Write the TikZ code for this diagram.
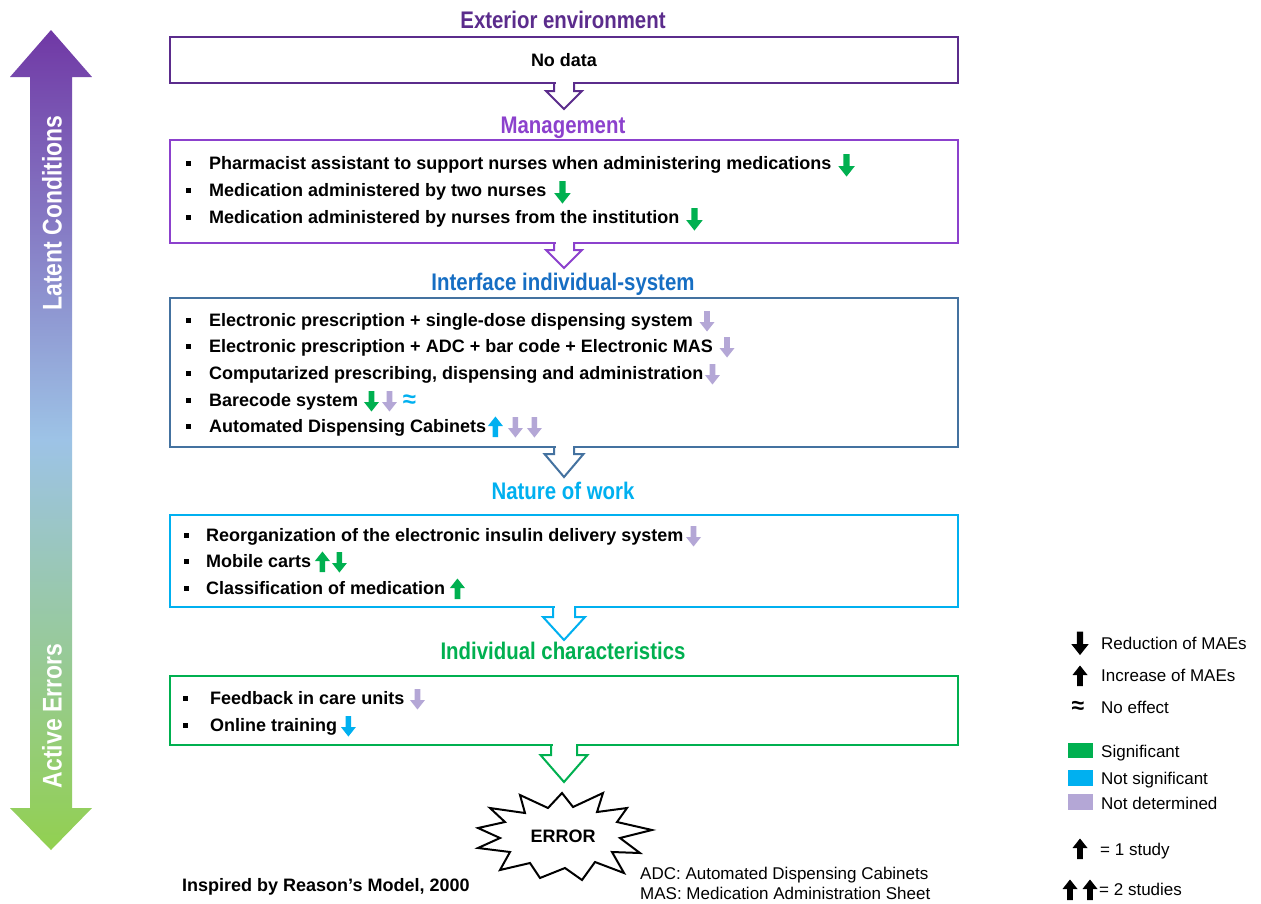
\documentclass[tikz,border=0pt]{standalone}
\usepackage{fontspec}
\setmainfont{Liberation Sans}
\newfontfamily\narrowsans[FakeStretch=0.85]{Liberation Sans}
\definecolor{cExt}{RGB}{91,44,140}
\definecolor{cMan}{RGB}{140,65,205}
\definecolor{cIntT}{RGB}{22,110,195}
\definecolor{cIntB}{RGB}{68,114,160}
\definecolor{cNat}{RGB}{0,176,240}
\definecolor{cInd}{RGB}{0,176,80}
\definecolor{sig}{RGB}{0,176,80}
\definecolor{nsig}{RGB}{0,176,240}
\definecolor{nd}{RGB}{180,167,214}
\definecolor{arTop}{RGB}{112,56,165}
\definecolor{arMid}{RGB}{157,195,230}
\definecolor{arBot}{RGB}{146,208,80}
\newcommand\itemfont{\bfseries\fontsize{18}{20}\selectfont}
\newcommand\hdrfont{\narrowsans\bfseries\fontsize{24}{28}\selectfont}
\newcommand\legfont{\fontsize{17}{20}\selectfont}
\newcommand\sidefont{\narrowsans\bfseries\fontsize{27}{30}\selectfont}
\newcommand\bul[1]{\llap{\rule[3.8pt]{5pt}{5pt}\hspace{#1pt}}}
\tikzset{
  box/.style={draw, line width=2pt, outer sep=0pt, inner sep=0pt, minimum width=788pt, font=\itemfont},
  hdr/.style={font=\hdrfont, inner sep=0pt, text height=17.2pt, text depth=0pt},
  item/.style={anchor=west, inner sep=0pt, font=\itemfont, text height=12.9pt, text depth=0pt},
  leg/.style={anchor=west, inner sep=0pt, font=\legfont, text height=12.2pt, text depth=0pt},
  side/.style={rotate=90, text=white, font=\sidefont, inner sep=0pt, text height=19.4pt, text depth=0pt},
  flow/.style={line width=2pt, line join=miter},
  darr/.pic={\fill[pic actions] (-2.8,-10) -- (2.8,-10) -- (2.8,1) -- (7.5,1) -- (0,10.5) -- (-7.5,1) -- (-2.8,1) -- cycle;},
  uarr/.pic={\fill[pic actions] (-2.8,10) -- (2.8,10) -- (2.8,-1) -- (7.5,-1) -- (0,-10.5) -- (-7.5,-1) -- (-2.8,-1) -- cycle;},
}
\begin{document}
\begin{tikzpicture}[x=1pt,y=-1pt]
\useasboundingbox[fill=white] (0,0) rectangle (1261,903);

% left gradient double arrow
\shade[top color=arTop, bottom color=arBot, middle color=arMid]
  (51,30) -- (92,77) -- (72,77) -- (72,808) -- (92,808) -- (51,850) -- (10,808) -- (30,808) -- (30,77) -- (10,77) -- cycle;
\node[side] (lat) at (52,213) {Latent Conditions};
\node[side] (act) at (52,716) {Active Errors};

% headers
\node[hdr, text=cExt] (h1) at (563,20) {Exterior environment};
\node[hdr, text=cMan] (h2) at (563,125) {Management};
\node[hdr, text=cIntT] (h3) at (563,282) {Interface individual-system};
\node[hdr, text=cNat] (h4) at (563,491) {Nature of work};
\node[hdr, text=cInd] (h5) at (563,651) {Individual characteristics};

% boxes
\node[box, draw=cExt, minimum height=46pt] (b1) at (564,60) {No data};
\node[box, draw=cMan, minimum height=103pt] (b2) at (564,191.5) {};
\node[box, draw=cIntB, minimum height=149pt] (b3) at (564,372.5) {};
\node[box, draw=cNat, minimum height=92pt] (b4) at (564,561) {};
\node[box, draw=cInd, minimum height=69pt] (b5) at (564,710.5) {};

% block arrows between boxes
\fill[white] (b1.south) ++(-8.5,-2) rectangle ++(17,4);
\draw[flow, draw=cExt] (b1.south) ++(-10,0) -- ++(0,8) -- ++(-8,0) -- ++(18,18) -- ++(18,-18) -- ++(-8,0) -- ++(0,-8);
\fill[white] (b2.south) ++(-8.5,-2) rectangle ++(17,4);
\draw[flow, draw=cMan] (b2.south) ++(-10,0) -- ++(0,7) -- ++(-8,0) -- ++(18,18) -- ++(18,-18) -- ++(-8,0) -- ++(0,-7);
\fill[white] (b3.south) ++(-8.5,-2) rectangle ++(17,4);
\draw[flow, draw=cIntB] (b3.south) ++(-10,0) -- ++(0,7) -- ++(-9.5,0) -- ++(19.5,23) -- ++(19.5,-23) -- ++(-9.5,0) -- ++(0,-7);
\fill[white] (b4.south) ++(-9.5,-2) rectangle ++(19,4);
\draw[flow, draw=cNat] (b4.south) ++(-11,0) -- ++(0,10) -- ++(-10,0) -- ++(21,23) -- ++(21,-23) -- ++(-10,0) -- ++(0,-10);
\fill[white] (b5.south) ++(-11.5,-2) rectangle ++(23,4);
\draw[flow, draw=cInd] (b5.south) ++(-13,0) -- ++(0,10) -- ++(-10.5,0) -- ++(23.5,27) -- ++(23.5,-27) -- ++(-10.5,0) -- ++(0,-10);

% Management items
\node[item] (m1) at (209,163) {\bul{18}Pharmacist assistant to support nurses when administering medications};
\path (m1.east) ++(15,2) pic[fill=sig, scale=1.1] {darr};
\node[item] (m2) at (209,190) {\bul{18}Medication administered by two nurses};
\path (m2.east) ++(16,2) pic[fill=sig, scale=1.1] {darr};
\node[item] (m3) at (209,217) {\bul{18}Medication administered by nurses from the institution};
\path (m3.east) ++(15,2) pic[fill=sig, scale=1.1] {darr};

% Interface items
\node[item] (i1) at (209,320) {\bul{18}Electronic prescription + single-dose dispensing system};
\path (i1.east) ++(14,1) pic[fill=nd] {darr};
\node[item] (i2) at (209,346) {\bul{18}Electronic prescription + ADC + bar code + Electronic MAS};
\path (i2.east) ++(14,1) pic[fill=nd] {darr};
\node[item] (i3) at (209,373) {\bul{18}Computarized prescribing, dispensing and administration};
\path (i3.east) ++(9,1) pic[fill=nd] {darr};
\node[item] (i4) at (209,400) {\bul{18}Barecode system};
\path (i4.east) ++(13,1) pic[fill=sig] {darr};
\path (i4.east) ++(31,1) pic[fill=nd] {darr};
\path (i4.east) ++(51,1) node[font=\bfseries\fontsize{24}{24}\selectfont, text=nsig, inner sep=0pt] (i4a) {≈};
\node[item] (i5) at (209,426) {\bul{18}Automated Dispensing Cabinets};
\path (i5.east) ++(9,1) pic[fill=nsig] {uarr};
\path (i5.east) ++(29,1) pic[fill=nd] {darr};
\path (i5.east) ++(48,1) pic[fill=nd] {darr};

% Nature items
\node[item] (n1) at (206,535) {\bul{17}Reorganization of the electronic insulin delivery system};
\path (n1.east) ++(10,1) pic[fill=nd] {darr};
\node[item] (n2) at (206,561) {\bul{17}Mobile carts};
\path (n2.east) ++(11,1) pic[fill=sig] {uarr};
\path (n2.east) ++(28,1) pic[fill=sig] {darr};
\node[item] (n3) at (206,588) {\bul{17}Classification of medication};
\path (n3.east) ++(12,1) pic[fill=sig] {uarr};

% Individual items
\node[item] (d1) at (210,698) {\bul{22}Feedback in care units};
\path (d1.east) ++(13,1) pic[fill=nd] {darr};
\node[item] (d2) at (210,725) {\bul{22}Online training};
\path (d2.east) ++(11,1) pic[fill=nsig] {darr};

% ERROR starburst
\draw[line width=2pt, line join=miter, fill=white]
  (562,793) -- (573,807) -- (603,793) -- (597,812) -- (627,808) -- (617,822) -- (652,830)
  -- (620,838) -- (640,853) -- (612,852) -- (624,873) -- (595,862) -- (582,880) -- (565,868)
  -- (540,878) -- (530,863) -- (500,870) -- (510,852) -- (478,848) -- (500,838) -- (478,828)
  -- (505,822) -- (490,808) -- (525,813) -- (520,795) -- (548,808) -- cycle;
\node[item, anchor=center] (err) at (563,836) {ERROR};

% footer texts
\node[item] (insp) at (182,885) {Inspired by Reason’s Model, 2000};
\node[anchor=west, align=left, inner sep=0pt, font=\legfont] (abbr) at (640,883) {ADC: Automated Dispensing Cabinets\\MAS: Medication Administration Sheet};

% legend
\path (1080,643) pic[fill=black, scale=1.15] {darr};
\node[leg] (l1) at (1101,643) {Reduction of MAEs};
\path (1080,676) pic[fill=black] {uarr};
\node[leg] (l2) at (1101,675) {Increase of MAEs};
\node[font=\bfseries\fontsize{23}{23}\selectfont, inner sep=0pt] (l3s) at (1078,707) {≈};
\node[leg] (l3) at (1101,707) {No effect};
\fill[sig] (1068,743) rectangle (1093,758);
\node[leg] (l4) at (1101,751) {Significant};
\fill[nsig] (1068,770) rectangle (1093,786);
\node[leg] (l5) at (1101,778) {Not significant};
\fill[nd] (1068,794) rectangle (1093,810);
\node[leg] (l6) at (1101,803) {Not determined};
\path (1080,849) pic[fill=black] {uarr};
\node[leg] (l7) at (1100,849) {= 1 study};
\path (1070,890) pic[fill=black] {uarr};
\path (1090,890) pic[fill=black] {uarr};
\node[leg] (l8) at (1099,889) {= 2 studies};
\end{tikzpicture}
\end{document}
